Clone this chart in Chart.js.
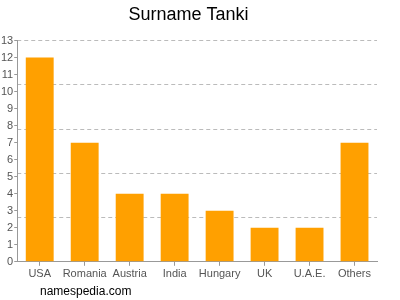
<!DOCTYPE html>
<html>
<head>
<meta charset="utf-8">
<script src="https://cdn.jsdelivr.net/npm/chart.js@4/dist/chart.umd.min.js"></script>
<style>
  html, body { margin: 0; padding: 0; background: #fff; }
  #wrap { width: 400px; height: 300px; }
</style>
</head>
<body>
<div id="wrap"><canvas id="surnameChart" width="400" height="300"></canvas></div>
<script>
// data
const countries = ['USA', 'Romania', 'Austria', 'India', 'Hungary', 'UK', 'U.A.E.', 'Others'];
const counts = [12, 7, 4, 4, 3, 2, 2, 7];
const yMax = 13;
const gridSteps = 5;

const barColor = '#FFA000';
const textColor = '#555555';

// footer text drawn under the chart
const footerPlugin = {
  id: 'footer',
  afterDraw(chart) {
    const ctx = chart.ctx;
    ctx.save();
    ctx.font = '12px "Liberation Sans", Arial, sans-serif';
    ctx.fillStyle = '#000';
    ctx.textBaseline = 'middle';
    ctx.fillText('namespedia.com', 40, 292);
    ctx.restore();
  }
};

new Chart(document.getElementById('surnameChart').getContext('2d'), {
  type: 'bar',
  data: {
    labels: countries,
    datasets: [{
      data: counts,
      backgroundColor: barColor,
      borderWidth: 0,
      barPercentage: 0.62,
      categoryPercentage: 1
    }]
  },
  options: {
    responsive: false,
    animation: false,
    layout: { padding: { left: 0, right: 23, top: 0, bottom: 17 } },
    plugins: {
      legend: { display: false },
      tooltip: { enabled: false },
      title: {
        display: true,
        text: 'Surname Tanki',
        color: '#000',
        font: { family: '"Liberation Sans", Arial, sans-serif', size: 18, weight: 'normal' },
        padding: { top: 4, bottom: 15 }
      }
    },
    scales: {
      x: {
        grid: { display: true, drawOnChartArea: false, offset: false, tickLength: 4, color: '#999' },
        border: { color: '#999' },
        ticks: { color: textColor, font: { family: '"Liberation Sans", Arial, sans-serif', size: 11 }, padding: 2, maxRotation: 0, autoSkip: false }
      },
      y: {
        min: 0,
        max: yMax,
        grid: { display: true, drawOnChartArea: false, tickLength: 3, color: '#999' },
        border: { color: '#999' },
        ticks: { stepSize: 1, color: textColor, font: { family: '"Liberation Sans", Arial, sans-serif', size: 11 }, padding: 1 }
      },
      yGrid: {
        position: 'right',
        min: 0,
        max: yMax,
        afterBuildTicks(axis) {
          const t = [];
          for (let i = 0; i <= gridSteps; i++) t.push({ value: i * yMax / gridSteps });
          axis.ticks = t;
        },
        grid: { color: '#bbbbbb', drawTicks: false, tickLength: 0 },
        border: { display: false, dash: [4, 3] },
        ticks: { display: false }
      }
    }
  },
  plugins: [footerPlugin]
});
</script>
</body>
</html>
